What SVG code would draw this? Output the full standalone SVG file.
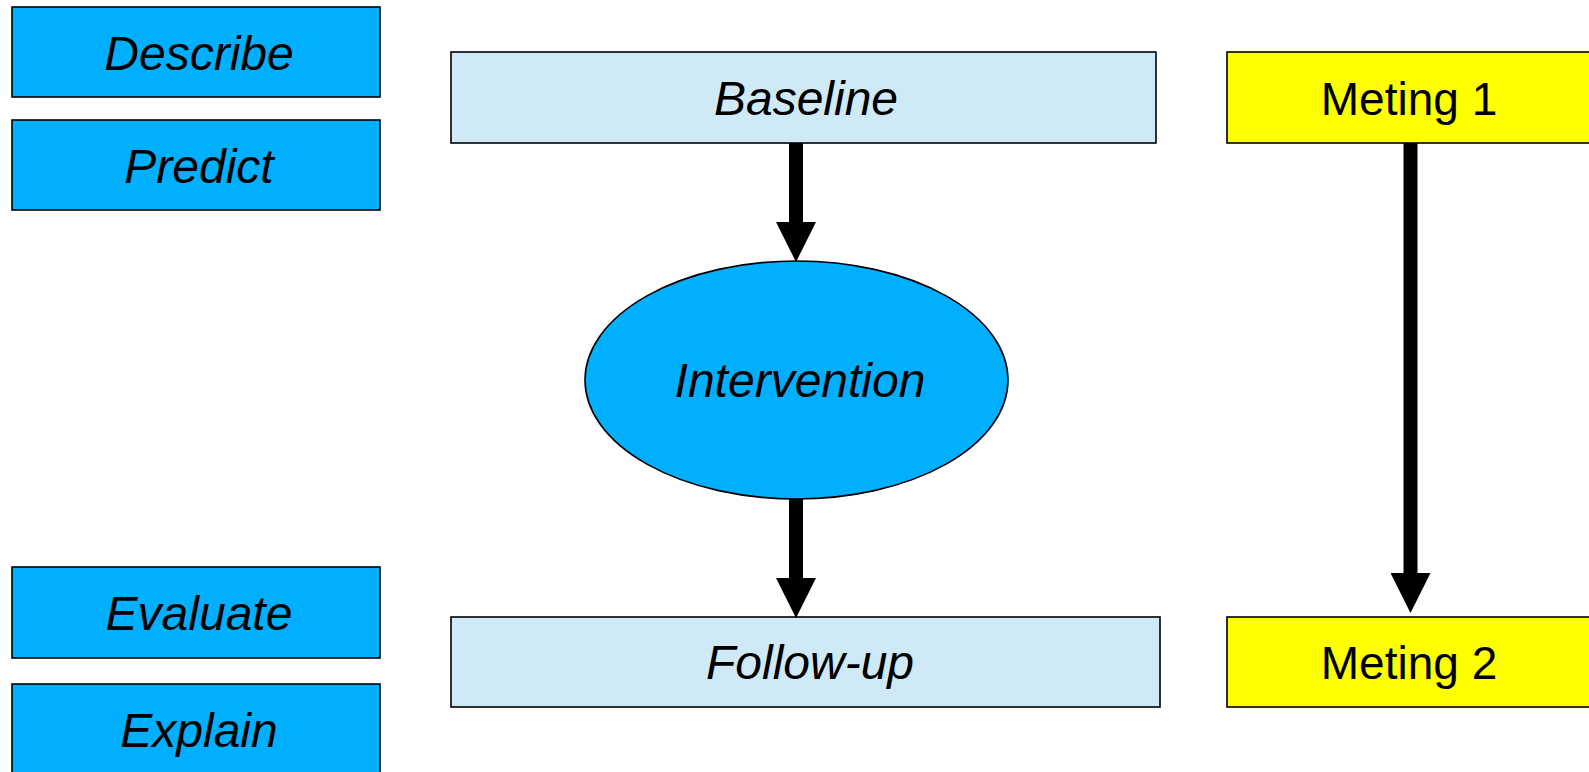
<svg xmlns="http://www.w3.org/2000/svg" width="1589" height="772" viewBox="0 0 1589 772">
<style>
  .box { stroke: #000; stroke-width: 1.6; }
  .blue { fill: #00B0FF; }
  .light { fill: #CFE9F7; }
  .yellow { fill: #FFFF00; }
  text { font-family: "Liberation Sans", Arial, sans-serif; font-size: 46px; fill: #000; text-anchor: middle; }
  .it { font-style: italic; font-size: 48px; }
  .conn { stroke: #000; stroke-width: 14; fill: none; marker-end: url(#head); }
</style>
<defs>
  <marker id="head" markerUnits="userSpaceOnUse" markerWidth="40" markerHeight="40" viewBox="0 0 40 40" refX="0" refY="20" orient="auto">
    <path d="M0,0 L40,20 L0,40 Z" fill="#000"/>
  </marker>
</defs>
<rect width="1589" height="772" fill="#fff"/>
<g id="describe"><rect class="box blue" x="12" y="7" width="368" height="90"/><text class="it" x="199" y="70">Describe</text></g>
<g id="predict"><rect class="box blue" x="12" y="120" width="368" height="90"/><text class="it" x="199" y="183">Predict</text></g>
<g id="evaluate"><rect class="box blue" x="12" y="567" width="368" height="91"/><text class="it" x="199" y="630">Evaluate</text></g>
<g id="explain"><rect class="box blue" x="12" y="684" width="368" height="92"/><text class="it" x="199" y="747">Explain</text></g>
<g id="baseline"><rect class="box light" x="451" y="52" width="705" height="91"/><text class="it" x="806" y="115">Baseline</text></g>
<g id="intervention"><ellipse class="box blue" cx="796.5" cy="380" rx="211.5" ry="119"/><text class="it" x="800" y="397">Intervention</text></g>
<g id="followup"><rect class="box light" x="451" y="617" width="709" height="90"/><text class="it" x="810" y="679">Follow-up</text></g>
<g id="meting1"><rect class="box yellow" x="1227" y="52" width="370" height="91"/><text x="1409" y="115">Meting 1</text></g>
<g id="meting2"><rect class="box yellow" x="1227" y="617" width="370" height="90"/><text x="1409" y="679">Meting 2</text></g>
<g id="connectors">
  <path class="conn" d="M796,143 L796,222"/>
  <path class="conn" d="M796,499 L796,578"/>
  <path class="conn" d="M1410.5,143 L1410.5,573"/>
</g>
</svg>
